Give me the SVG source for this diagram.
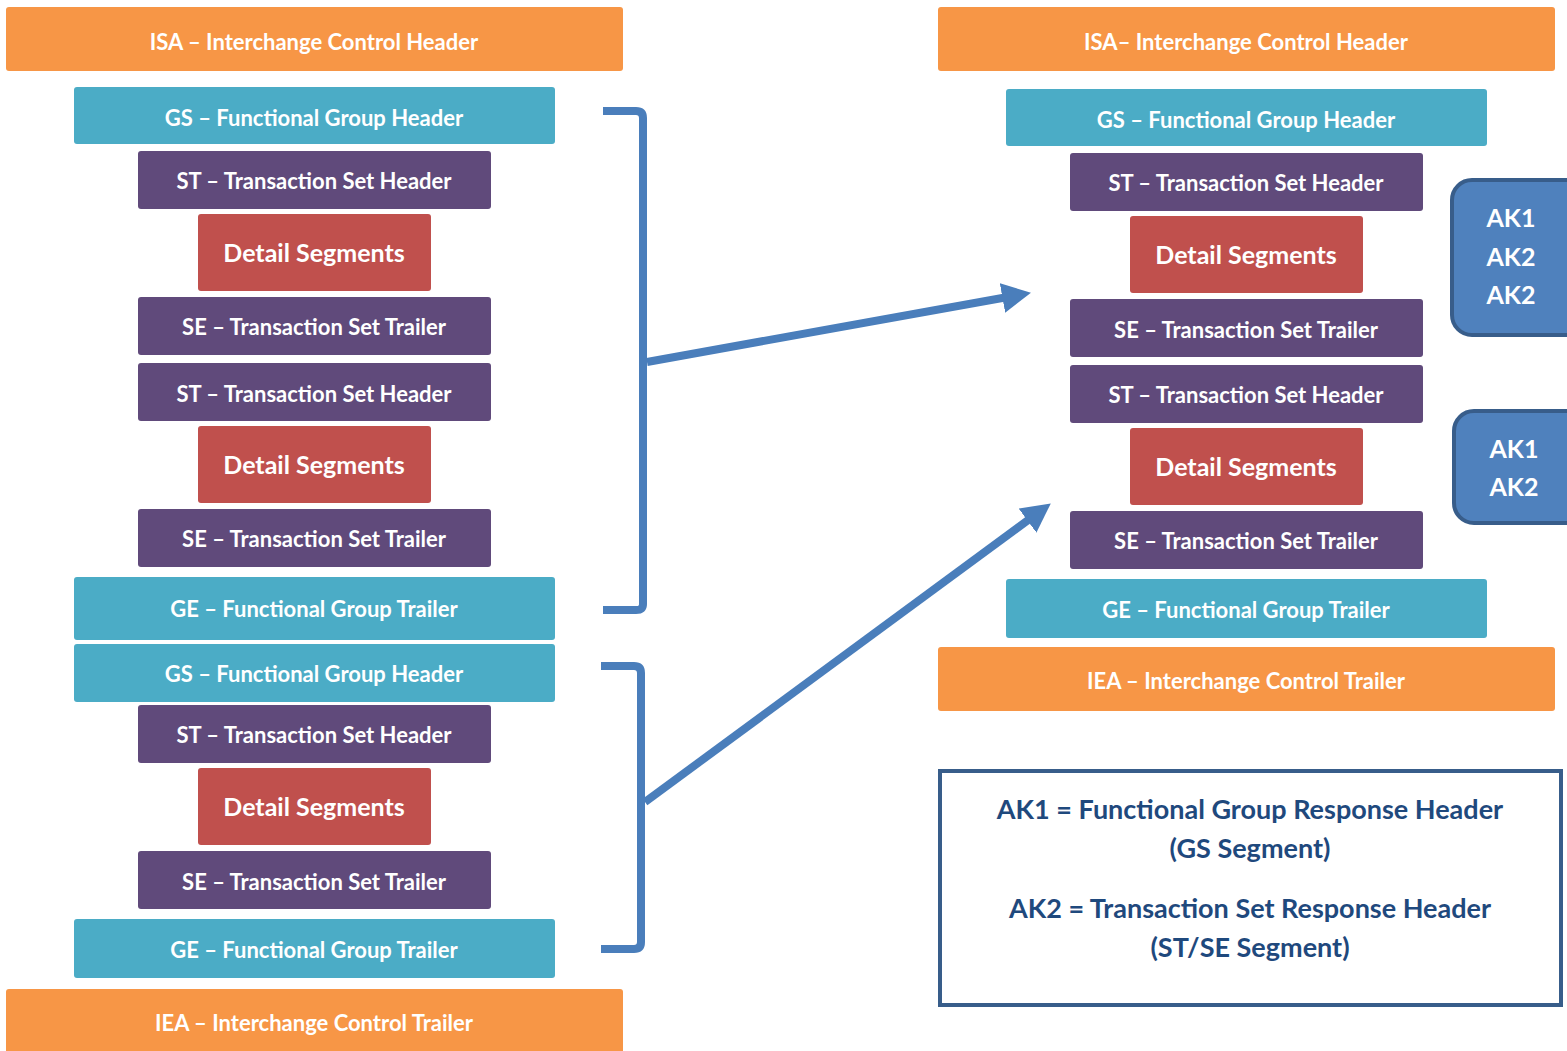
<svg xmlns="http://www.w3.org/2000/svg" width="1567" height="1051" viewBox="0 0 1567 1051">
<style>
.isa{fill:#F79646}
.gs{fill:#4BACC6}
.st{fill:#604A7B}
.det{fill:#C0504D}
.lbl{font-family:Lato,"Open Sans","Liberation Sans",sans-serif;font-weight:bold;font-size:22px;fill:#FFFFFF;text-anchor:middle;dominant-baseline:central}
.big{font-size:25px}
.ak{fill:#4F81BD;stroke:#385D8A;stroke-width:4}
.akt{font-family:Lato,"Open Sans","Liberation Sans",sans-serif;font-weight:bold;font-size:25px;fill:#FFFFFF;text-anchor:middle;dominant-baseline:central}
.leg{font-family:Lato,"Open Sans","Liberation Sans",sans-serif;font-weight:bold;font-size:27px;fill:#1F497D;text-anchor:middle;dominant-baseline:central}
.con{fill:none;stroke:#4A7EBB;stroke-width:8}
</style>
<defs>
<marker id="ah" markerUnits="userSpaceOnUse" markerWidth="30" markerHeight="30" refX="13" refY="14" orient="auto" viewBox="0 0 28 28">
<path d="M0,0 L27,14 L0,28 Z" fill="#4A7EBB"/>
</marker>
</defs>

<g id="left-isa"><rect class="isa" x="6" y="7" width="617" height="64" rx="3"/><text class="lbl" x="314" y="41">ISA – Interchange Control Header</text></g>
<g id="left-gs1"><rect class="gs" x="74" y="87" width="481" height="57" rx="3"/><text class="lbl" x="314" y="117">GS – Functional Group Header</text></g>
<g id="left-st1"><rect class="st" x="138" y="151" width="353" height="58" rx="3"/><text class="lbl" x="314" y="180">ST – Transaction Set Header</text></g>
<g id="left-det1"><rect class="det" x="198" y="214" width="233" height="77" rx="3"/><text class="lbl big" x="314" y="252">Detail Segments</text></g>
<g id="left-se1"><rect class="st" x="138" y="297" width="353" height="58" rx="3"/><text class="lbl" x="314" y="326">SE – Transaction Set Trailer</text></g>
<g id="left-st2"><rect class="st" x="138" y="363" width="353" height="58" rx="3"/><text class="lbl" x="314" y="393">ST – Transaction Set Header</text></g>
<g id="left-det2"><rect class="det" x="198" y="426" width="233" height="77" rx="3"/><text class="lbl big" x="314" y="464">Detail Segments</text></g>
<g id="left-se2"><rect class="st" x="138" y="509" width="353" height="58" rx="3"/><text class="lbl" x="314" y="538">SE – Transaction Set Trailer</text></g>
<g id="left-ge1"><rect class="gs" x="74" y="577" width="481" height="63" rx="3"/><text class="lbl" x="314" y="608">GE – Functional Group Trailer</text></g>
<g id="left-gs2"><rect class="gs" x="74" y="644" width="481" height="58" rx="3"/><text class="lbl" x="314" y="673">GS – Functional Group Header</text></g>
<g id="left-st3"><rect class="st" x="138" y="705" width="353" height="58" rx="3"/><text class="lbl" x="314" y="734">ST – Transaction Set Header</text></g>
<g id="left-det3"><rect class="det" x="198" y="768" width="233" height="77" rx="3"/><text class="lbl big" x="314" y="806">Detail Segments</text></g>
<g id="left-se3"><rect class="st" x="138" y="851" width="353" height="58" rx="3"/><text class="lbl" x="314" y="881">SE – Transaction Set Trailer</text></g>
<g id="left-ge2"><rect class="gs" x="74" y="919" width="481" height="59" rx="3"/><text class="lbl" x="314" y="949">GE – Functional Group Trailer</text></g>
<g id="left-iea"><rect class="isa" x="6" y="989" width="617" height="66" rx="3"/><text class="lbl" x="314" y="1022">IEA – Interchange Control Trailer</text></g>

<g id="right-isa"><rect class="isa" x="938" y="7" width="617" height="64" rx="3"/><text class="lbl" x="1246" y="41">ISA– Interchange Control Header</text></g>
<g id="right-gs"><rect class="gs" x="1006" y="89" width="481" height="57" rx="3"/><text class="lbl" x="1246" y="119">GS – Functional Group Header</text></g>
<g id="right-st1"><rect class="st" x="1070" y="153" width="353" height="58" rx="3"/><text class="lbl" x="1246" y="182">ST – Transaction Set Header</text></g>
<g id="right-det1"><rect class="det" x="1130" y="216" width="233" height="77" rx="3"/><text class="lbl big" x="1246" y="254">Detail Segments</text></g>
<g id="right-se1"><rect class="st" x="1070" y="299" width="353" height="58" rx="3"/><text class="lbl" x="1246" y="329">SE – Transaction Set Trailer</text></g>
<g id="right-st2"><rect class="st" x="1070" y="365" width="353" height="58" rx="3"/><text class="lbl" x="1246" y="394">ST – Transaction Set Header</text></g>
<g id="right-det2"><rect class="det" x="1130" y="428" width="233" height="77" rx="3"/><text class="lbl big" x="1246" y="466">Detail Segments</text></g>
<g id="right-se2"><rect class="st" x="1070" y="511" width="353" height="58" rx="3"/><text class="lbl" x="1246" y="540">SE – Transaction Set Trailer</text></g>
<g id="right-ge"><rect class="gs" x="1006" y="579" width="481" height="59" rx="3"/><text class="lbl" x="1246" y="609">GE – Functional Group Trailer</text></g>
<g id="right-iea"><rect class="isa" x="938" y="647" width="617" height="64" rx="3"/><text class="lbl" x="1246" y="680">IEA – Interchange Control Trailer</text></g>

<g id="ak-box1"><rect class="ak" x="1452" y="180" width="140" height="155" rx="20"/><text class="akt" x="1511" y="217">AK1</text><text class="akt" x="1511" y="256">AK2</text><text class="akt" x="1511" y="294">AK2</text></g>
<g id="ak-box2"><rect class="ak" x="1454" y="411" width="140" height="112" rx="20"/><text class="akt" x="1514" y="448">AK1</text><text class="akt" x="1514" y="486">AK2</text></g>

<g id="legend"><rect x="940" y="771" width="621" height="234" fill="#FFFFFF" stroke="#385D8A" stroke-width="4"/>
<text class="leg" x="1250" y="808">AK1 = Functional Group Response Header</text>
<text class="leg" x="1250" y="847">(GS Segment)</text>
<text class="leg" x="1250" y="907">AK2 = Transaction Set Response Header</text>
<text class="leg" x="1250" y="946">(ST/SE Segment)</text></g>

<g id="connectors">
<path class="con" d="M603,111 L636,111 Q643,111 643,118 L643,604 Q643,610 636,610 L603,610"/>
<path class="con" d="M601,666 L634,666 Q641,666 641,673 L641,942 Q641,949 634,949 L601,949"/>
<path class="con" d="M647,362 L1016.2,295.5" marker-end="url(#ah)"/>
<path class="con" d="M645,802 L1038.7,512.3" marker-end="url(#ah)"/>
</g>
</svg>
